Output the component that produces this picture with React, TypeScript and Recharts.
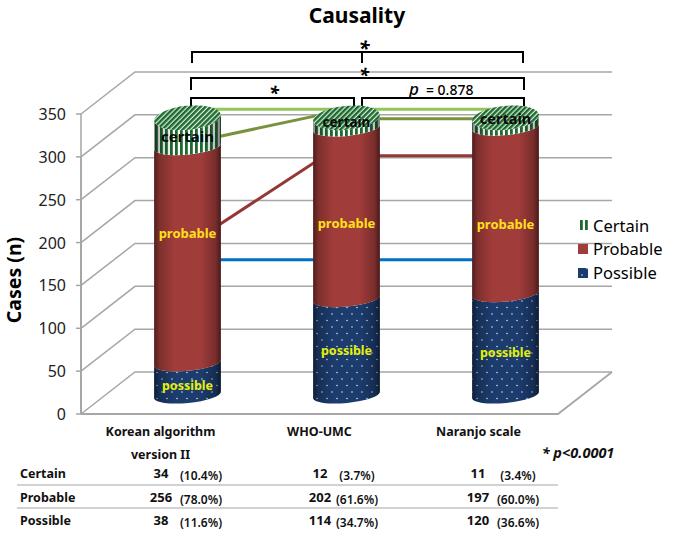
import { Bar, CartesianGrid, ComposedChart, Line, XAxis, YAxis } from 'recharts';

const CATEGORIES = ['Korean algorithm|version II', 'WHO-UMC', 'Naranjo scale'];
const POSSIBLE = [38, 114, 120];
const PROBABLE = [256, 202, 197];
const CERTAIN = [34, 12, 11];
const Y_TICKS = [0, 50, 100, 150, 200, 250, 300, 350];

// series lines joining the columns
const LINE_LIGHT_GREEN = [338, 338, 338];
const LINE_OLIVE_A = [298, 338, null];
const LINE_OLIVE_B = [null, 327, 327];
const LINE_RED_A = [177, 300, null];
const LINE_RED_B = [null, 283, 283];
const LINE_BLUE = [160, 160, 160];

const ROW_NAMES = ['Certain', 'Probable', 'Possible'];
const ROW_COUNTS = [CERTAIN, PROBABLE, POSSIBLE];
const ROW_PERCENTS = [
    ['(10.4%)', '(3.7%)', '(3.4%)'],
    ['(78.0%)', '(61.6%)', '(60.0%)'],
    ['(11.6%)', '(34.7%)', '(36.6%)'],
];
const LEGEND_NAMES = ['Certain', 'Probable', 'Possible'];

const FONT = '"Noto Sans", sans-serif';
const WIDTH = 675;
const HEIGHT = 538;
const PLOT_LEFT = 108;
const PLOT_RIGHT = 585;
const PLOT_TOP = 95;
const PLOT_BOTTOM = 395;
const FRONT_DX = -27;
const FRONT_DY = 19;
const BACK_DX = 27;
const BACK_DY = -23;
const WALL = '#a6a6a6';
const TILT = -5.5;
const RY = 8;
const TOP_RY = 12;

const chartData = CATEGORIES.map((name, i) => ({
    name,
    possible: POSSIBLE[i],
    probable: PROBABLE[i],
    certain: CERTAIN[i],
    lightGreen: LINE_LIGHT_GREEN[i],
    oliveA: LINE_OLIVE_A[i],
    oliveB: LINE_OLIVE_B[i],
    redA: LINE_RED_A[i],
    redB: LINE_RED_B[i],
    blue: LINE_BLUE[i],
}));

const FILLS: Record<string, string> = {
    possible: 'url(#dotsFill)',
    probable: '#a03c3a',
    certain: 'url(#stripesFill)',
};
const LABEL_FILLS: Record<string, string> = {
    possible: '#e4f00a',
    probable: '#ffe01a',
    certain: '#0b0b0b',
};

// small per column nudges, the labels were hand placed in the original
const LABEL_DY: Record<string, number[]> = {
    possible: [7, 4, 8],
    probable: [-22, 10, 14],
    certain: [4, -1, -4],
};
const LABEL_SIZE: Record<string, number[]> = {
    possible: [12.5, 12.5, 12.5],
    probable: [13, 13, 13],
    certain: [15, 13.5, 14.5],
};

function Cylinder(props: any) {
    const { x, y, width, height, kind, index } = props;
    const rx = width / 2;
    const cx = x + rx;
    const rad = (TILT * Math.PI) / 180;
    const ex = rx * Math.cos(rad);
    const ey = rx * Math.sin(rad);
    const bottom = y + height;
    const upperRy = kind === 'certain' ? TOP_RY : RY;
    const side = `M${cx - ex} ${bottom - ey}
        A${rx} ${RY} ${TILT} 0 0 ${cx + ex} ${bottom + ey}
        L${cx + ex} ${y + ey}
        A${rx} ${upperRy} ${TILT} 0 1 ${cx - ex} ${y - ey} Z`;
    const top = `M${cx - ex} ${y - ey}
        A${rx} ${TOP_RY} ${TILT} 0 1 ${cx + ex} ${y + ey}
        A${rx} ${TOP_RY} ${TILT} 0 1 ${cx - ex} ${y - ey} Z`;
    return (
        <g>
            <path d={side} fill={FILLS[kind]} />
            <path d={side} fill="url(#cylShade)" />
            {kind === 'certain' && <path d={top} fill="url(#hatchFill)" />}
            <text
                x={cx}
                y={y + height / 2 + LABEL_DY[kind][index]}
                textAnchor="middle"
                dominantBaseline="central"
                fontFamily={FONT}
                fontWeight={700}
                fontSize={LABEL_SIZE[kind][index]}
                fill={LABEL_FILLS[kind]}
            >
                {kind}
            </text>
        </g>
    );
}

function WallLine(props: any) {
    const { y1, index } = props;
    const frontY = y1 + FRONT_DY;
    const backY = y1 + BACK_DY;
    const frontX = PLOT_LEFT + FRONT_DX;
    const backX = PLOT_LEFT + BACK_DX;
    const backEnd = PLOT_RIGHT + BACK_DX;
    const frontEnd = PLOT_RIGHT + FRONT_DX;
    const isFloor = Math.abs(y1 - PLOT_BOTTOM) < 1;
    return (
        <g key={index} stroke={WALL} fill="none">
            <line x1={frontX - 5} y1={frontY} x2={frontX} y2={frontY} strokeWidth={1.5} />
            <line x1={frontX} y1={frontY} x2={frontX} y2={PLOT_BOTTOM + FRONT_DY} strokeWidth={1.5} />
            <polyline points={`${frontX},${frontY} ${backX},${backY} ${backEnd},${backY}`} strokeWidth={1.5} />
            {isFloor && (
                <polyline points={`${frontX},${frontY} ${frontEnd},${frontY} ${backEnd},${backY}`} strokeWidth={1.8} />
            )}
        </g>
    );
}

function YTick(props: any) {
    const { y, payload } = props;
    return (
        <text
            x={PLOT_LEFT + FRONT_DX - 15}
            y={y + FRONT_DY}
            textAnchor="end"
            dominantBaseline="central"
            fontFamily={FONT}
            fontSize={16}
            fill="#222"
        >
            {payload.value}
        </text>
    );
}

function XTick(props: any) {
    const { x, payload } = props;
    const lines = String(payload.value).split('|');
    return (
        <g>
            {lines.map((line, i) => (
                <text
                    key={line}
                    x={x + FRONT_DX}
                    y={431 + i * 23}
                    textAnchor="middle"
                    dominantBaseline="central"
                    fontFamily={FONT}
                    fontWeight={700}
                    fontSize={12.5}
                    fill="#111"
                >
                    {line}
                </text>
            ))}
        </g>
    );
}

function Bracket({ x1, x2, y, drop, mid }: { x1: number; x2: number; y: number; drop: number; mid?: number }) {
    return (
        <g stroke="#000" strokeWidth={2} fill="none">
            <polyline points={`${x1},${y + drop} ${x1},${y} ${x2},${y} ${x2},${y + drop}`} />
            {mid !== undefined && <line x1={mid} y1={y} x2={mid} y2={y + drop} />}
        </g>
    );
}

function Star({ x, y, size }: { x: number; y: number; size: number }) {
    return (
        <text x={x} y={y} textAnchor="middle" fontFamily={FONT} fontWeight={700} fontStyle="italic" fontSize={size} fill="#000">
            *
        </text>
    );
}

const COUNT_X = [161, 320, 478];
const PERCENT_X = [201, 357, 518];
const ROW_Y = [473, 497, 520];

export default function App() {
    return (
        <div style={{ position: 'absolute', left: 0, top: 0, width: WIDTH, height: HEIGHT }}>
            <ComposedChart
                width={WIDTH}
                height={HEIGHT}
                data={chartData}
                margin={{ top: PLOT_TOP, right: WIDTH - PLOT_RIGHT, bottom: HEIGHT - PLOT_BOTTOM - 30, left: PLOT_LEFT - 60 }}
            >
                <defs>
                    <pattern id="dotsFill" width="10" height="13" patternUnits="userSpaceOnUse">
                        <rect width="10" height="13" fill="#1c3c6e" />
                        <circle cx="2" cy="2" r="0.7" fill="#fff" />
                        <circle cx="7" cy="8.5" r="0.7" fill="#fff" />
                    </pattern>
                    <pattern id="stripesFill" width="5" height="8" patternUnits="userSpaceOnUse">
                        <rect width="5" height="8" fill="#fff" />
                        <rect width="2.8" height="8" fill="#1d6a30" />
                    </pattern>
                    <pattern id="hatchFill" width="3.6" height="3.6" patternUnits="userSpaceOnUse" patternTransform="rotate(45)">
                        <rect width="3.6" height="3.6" fill="#dfeedd" />
                        <rect width="2.4" height="3.6" fill="#1d6a30" />
                    </pattern>
                    <linearGradient id="cylShade" x1="0" y1="0" x2="1" y2="0">
                        <stop offset="0" stopColor="#000" stopOpacity={0.5} />
                        <stop offset="0.08" stopColor="#000" stopOpacity={0.22} />
                        <stop offset="0.3" stopColor="#000" stopOpacity={0} />
                        <stop offset="0.7" stopColor="#000" stopOpacity={0} />
                        <stop offset="0.92" stopColor="#000" stopOpacity={0.25} />
                        <stop offset="1" stopColor="#000" stopOpacity={0.55} />
                    </linearGradient>
                </defs>

                <CartesianGrid yAxisId="front" vertical={false} horizontal={(p: any) => <WallLine {...p} />} />
                <XAxis dataKey="name" height={30} axisLine={false} tickLine={false} tick={<XTick />} interval={0} />
                <YAxis
                    yAxisId="front"
                    width={60}
                    domain={[0, 350]}
                    ticks={Y_TICKS}
                    axisLine={false}
                    tickLine={false}
                    tick={<YTick />}
                    interval={0}
                />
                <YAxis yAxisId="bars" hide domain={[0, 355]} />

                {/* invisible series, an axis with nothing on it gets no ticks */}
                <Line yAxisId="front" dataKey="possible" stroke="none" dot={false} isAnimationActive={false} />

                <Line yAxisId="bars" dataKey="lightGreen" stroke="#92c55c" strokeWidth={3} dot={false} isAnimationActive={false} zIndex={200} />
                <Line yAxisId="bars" dataKey="oliveA" stroke="#77933c" strokeWidth={3} dot={false} isAnimationActive={false} zIndex={200} />
                <Line yAxisId="bars" dataKey="oliveB" stroke="#77933c" strokeWidth={3} dot={false} isAnimationActive={false} zIndex={200} />
                <Line yAxisId="bars" dataKey="redA" stroke="#953735" strokeWidth={3} dot={false} isAnimationActive={false} zIndex={200} />
                <Line yAxisId="bars" dataKey="redB" stroke="#953735" strokeWidth={3} dot={false} isAnimationActive={false} zIndex={200} />
                <Line yAxisId="bars" dataKey="blue" stroke="#0070c0" strokeWidth={3} dot={false} isAnimationActive={false} zIndex={200} />

                <Bar yAxisId="bars" dataKey="possible" stackId="a" barSize={67} isAnimationActive={false} shape={(p: any) => <Cylinder {...p} kind="possible" />} />
                <Bar yAxisId="bars" dataKey="probable" stackId="a" barSize={67} isAnimationActive={false} shape={(p: any) => <Cylinder {...p} kind="probable" />} />
                <Bar yAxisId="bars" dataKey="certain" stackId="a" barSize={67} isAnimationActive={false} shape={(p: any) => <Cylinder {...p} kind="certain" />} />

                <text x={357} y={15} textAnchor="middle" dominantBaseline="central" fontFamily={FONT} fontWeight={700} fontSize={21} fill="#000">
                    Causality
                </text>
                <text
                    x={13}
                    y={280}
                    transform="rotate(-90 13 280)"
                    textAnchor="middle"
                    dominantBaseline="central"
                    fontFamily={FONT}
                    fontWeight={700}
                    fontSize={19.5}
                    fill="#000"
                >
                    Cases (n)
                </text>

                <Bracket x1={192} x2={523} y={52} drop={11} mid={362} />
                <Bracket x1={191} x2={524} y={78} drop={12} />
                <Bracket x1={191} x2={354} y={98} drop={10} />
                <Bracket x1={362} x2={524} y={98} drop={10} />
                <Star x={364} y={55} size={20} />
                <Star x={364} y={81} size={18} />
                <Star x={274} y={99} size={18} />
                <text x={409} y={95} fontFamily={FONT} fontWeight={500} fontSize={14} fill="#000">
                    <tspan fontStyle="italic" fontSize={17}>p</tspan>
                    <tspan dx={7}>= 0.878</tspan>
                </text>

                {LEGEND_NAMES.map((name, i) => (
                    <g key={name}>
                        <rect x={578} y={220 + i * 24} width={10} height={10} fill={[ 'url(#stripesFill)', '#a03c3a', 'url(#dotsFill)' ][i]} />
                        <text x={593} y={225 + i * 23.5} dominantBaseline="central" fontFamily={FONT} fontSize={16.5} fill="#000">
                            {name}
                        </text>
                    </g>
                ))}

                <text x={578} y={452} textAnchor="middle" dominantBaseline="central" fontFamily={FONT} fontWeight={700} fontStyle="italic" fontSize={14.5} fill="#111">
                    * p&lt;0.0001
                </text>

                {ROW_NAMES.map((name, r) => (
                    <g key={name} fontFamily={FONT} fill="#111" fontWeight={700}>
                        <text x={20} y={ROW_Y[r]} dominantBaseline="central" fontSize={12.5}>
                            {name}
                        </text>
                        {COUNT_X.map((x, c) => (
                            <text key={x} x={x} y={ROW_Y[r]} textAnchor="middle" dominantBaseline="central" fontSize={13}>
                                {ROW_COUNTS[r][c]}
                            </text>
                        ))}
                        {PERCENT_X.map((x, c) => (
                            <text key={x} x={x} y={ROW_Y[r] + 2} textAnchor="middle" dominantBaseline="central" fontSize={12} fontWeight={600}>
                                {ROW_PERCENTS[r][c]}
                            </text>
                        ))}
                    </g>
                ))}
                <line x1={17} y1={485} x2={558} y2={485} stroke={WALL} strokeWidth={1.2} />
                <line x1={17} y1={508} x2={558} y2={508} stroke={WALL} strokeWidth={1.2} />
            </ComposedChart>
        </div>
    );
}
